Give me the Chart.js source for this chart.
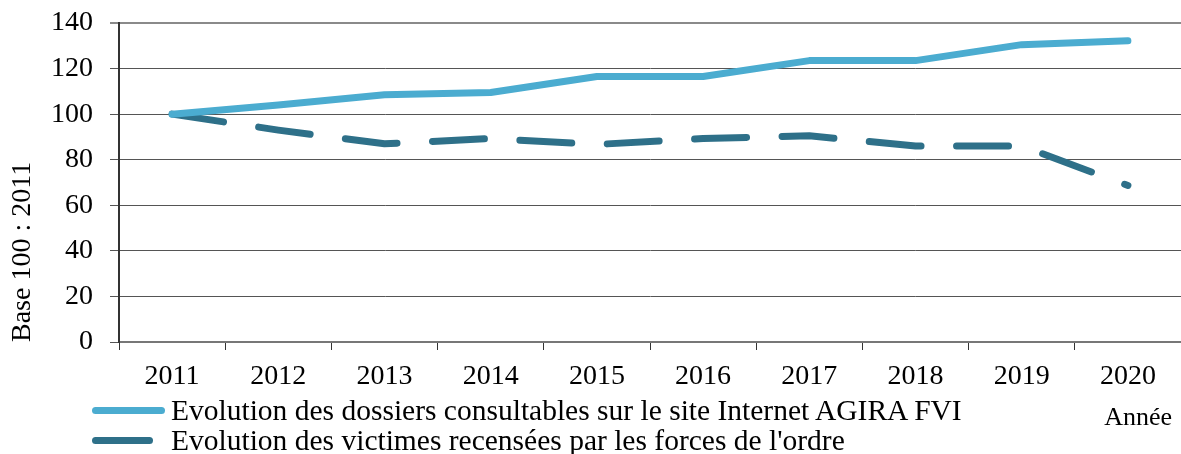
<!DOCTYPE html>
<html>
<head>
<meta charset="utf-8">
<script src="https://cdn.jsdelivr.net/npm/chart.js@4/dist/chart.umd.min.js"></script>
<style>
  body { margin: 0; background: #fff; }
  #wrap { position: relative; width: 1181px; height: 454px; }
  .legend { position: absolute; left: 92px; font-family: "Liberation Serif", serif; font-size: 29.5px; line-height: 30px; color: #000; display: flex; align-items: center; white-space: nowrap; }
  .legend .box { width: 79px; display: inline-block; }
  .legend .sw { display: block; height: 7px; border-radius: 4px; }
  #annee { position: absolute; right: 9px; top: 402px; font-family: "Liberation Serif", serif; font-size: 26px; line-height: 30px; color: #000; }
</style>
</head>
<body>
<div id="wrap">
  <canvas id="c" width="1181" height="454"></canvas>
  <div class="legend" id="leg1" style="top:395px"><span class="box"><span class="sw" style="width:73px;background:#4BACD0"></span></span><span class="txt"></span></div>
  <div class="legend" id="leg2" style="top:425px"><span class="box"><span class="sw" style="width:61px;background:#2E7089"></span></span><span class="txt"></span></div>
  <div id="annee">Année</div>
</div>
<script>
const years = ['2011', '2012', '2013', '2014', '2015', '2016', '2017', '2018', '2019', '2020'];
const dossiers = [100, 104, 108.5, 109.5, 116.5, 116.5, 123.5, 123.5, 130.5, 132.2];
const victimes = [100, 93, 87, 89.3, 86.7, 89.3, 90.5, 86, 86, 68.7];
const yTicks = [0, 20, 40, 60, 80, 100, 120, 140];

const labelDossiers = "Evolution des dossiers consultables sur le site Internet AGIRA FVI";
const labelVictimes = "Evolution des victimes recensées par les forces de l'ordre";

const serif = '"Liberation Serif", "Times New Roman", serif';

document.querySelector('#leg1 .txt').textContent = labelDossiers;
document.querySelector('#leg2 .txt').textContent = labelVictimes;

const ctx = document.getElementById('c').getContext('2d');
const chart = new Chart(ctx, {
  type: 'line',
  data: {
    labels: years,
    datasets: [
      {
        label: labelDossiers,
        data: dossiers,
        borderColor: '#4BACD0',
        borderWidth: 7,
        borderCapStyle: 'round',
        borderJoinStyle: 'round',
        pointRadius: 0,
        tension: 0
      },
      {
        label: labelVictimes,
        data: victimes,
        borderColor: '#2E7089',
        borderWidth: 7,
        borderDash: [52, 35.5],
        borderCapStyle: 'round',
        borderJoinStyle: 'round',
        pointRadius: 0,
        tension: 0
      }
    ]
  },
  options: {
    responsive: false,
    animation: false,
    layout: { padding: { top: 23, right: 0, left: 0, bottom: 0 } },
    plugins: {
      legend: { display: false },
      tooltip: { enabled: false }
    },
    scales: {
      x: {
        offset: true,
        afterFit: s => { s.height = 112; },
        grid: {
          offset: true,
          drawOnChartArea: false,
          drawTicks: true,
          tickLength: 8,
          color: '#333'
        },
        border: { color: '#777', width: 2 },
        ticks: {
          color: '#000',
          font: { family: serif, size: 28 },
          padding: 10,
          maxRotation: 0
        }
      },
      y: {
        min: 0,
        max: 140,
        afterFit: s => { s.width = 119; },
        afterBuildTicks: s => { s.ticks = yTicks.map(v => ({ value: v })); },
        grid: {
          color: ctx => ctx.tick && ctx.tick.value === 140 ? '#8a8a8a' : '#555',
          lineWidth: ctx => ctx.tick && ctx.tick.value === 140 ? 2 : 1,
          tickLength: 9,
          drawTicks: true
        },
        border: { color: '#333', width: 2 },
        ticks: {
          color: '#000',
          font: { family: serif, size: 28, lineHeight: 0.4 },
          padding: 17
        },
        title: {
          display: true,
          text: 'Base 100 : 2011',
          align: 'start',
          color: '#000',
          font: { family: serif, size: 28 },
          padding: { top: 6, bottom: 0 }
        }
      }
    }
  }
});
</script>
</body>
</html>
